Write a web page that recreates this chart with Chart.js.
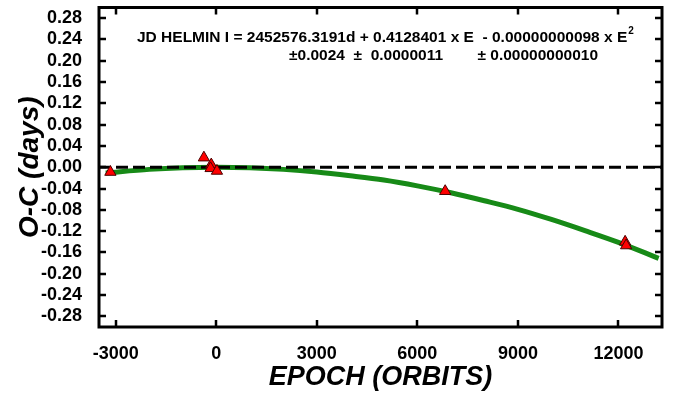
<!DOCTYPE html>
<html>
<head>
<meta charset="utf-8">
<title>O-C diagram</title>
<script src="https://cdn.jsdelivr.net/npm/chart.js@4.4.0/dist/chart.umd.min.js"></script>
<style>
  html, body { margin: 0; padding: 0; background: #ffffff; }
  #wrap { width: 674px; height: 395px; }
</style>
</head>
<body>
<div id="wrap"><canvas id="ocChart" width="674" height="395"></canvas></div>
<script>
// Observed minima: epoch and O-C residual (days)
const epochs = [-3160, -370, -150, -170, 20, 6830, 12200, 12230];
const ocDays = [-0.009, 0.018, 0.005, -0.002, -0.007, -0.045, -0.140, -0.147];

// Quadratic ephemeris curve, sampled along the epoch range
const fitEpochs = [-3300, -2000, -1000, 0, 1000, 2000, 3000, 4000, 5000, 6000, 7000, 8000, 9000, 10000, 11000, 12000, 13200];
const fitOc = [-0.011, -0.004, -0.001, 0.000, -0.001, -0.004, -0.009, -0.016, -0.024, -0.035, -0.048, -0.063, -0.079, -0.098, -0.119, -0.141, -0.171];

// Axis ranges and ticks
const xRange = [-3500, 13300];
const yRange = [-0.30, 0.30];
const xTicks = [-3000, 0, 3000, 6000, 9000, 12000];
const yTicks = [0.28, 0.24, 0.20, 0.16, 0.12, 0.08, 0.04, 0.00, -0.04, -0.08, -0.12, -0.16, -0.20, -0.24, -0.28];

// Ephemeris text
const ephemLine1 = 'JD HELMIN I = 2452576.3191d + 0.4128401 x E  - 0.00000000098 x E';
const ephemSup = '2';
const ephemLine2 = '\u00b10.0024  \u00b1  0.0000011        \u00b1 0.00000000010';

const FONT = "'Liberation Sans', Arial, Helvetica, sans-serif";

// inward tick marks on all four sides plus the heavy frame
const frameTicks = {
    id: 'frameTicks',
    afterDatasetsDraw(chart) {
        const { ctx, chartArea: a, scales: { x, y } } = chart;
        const len = 7;
        ctx.save();
        ctx.strokeStyle = '#000';
        ctx.lineWidth = 2.5;
        ctx.beginPath();
        xTicks.forEach(v => {
            const px = Math.round(x.getPixelForValue(v));
            ctx.moveTo(px, a.bottom); ctx.lineTo(px, a.bottom - len);
            ctx.moveTo(px, a.top); ctx.lineTo(px, a.top + len);
        });
        yTicks.forEach(v => {
            const py = Math.round(y.getPixelForValue(v));
            ctx.moveTo(a.left, py); ctx.lineTo(a.left + len, py);
            ctx.moveTo(a.right, py); ctx.lineTo(a.right - len, py);
        });
        ctx.stroke();
        ctx.lineWidth = 3;
        ctx.strokeRect(a.left, a.top, a.right - a.left, a.bottom - a.top);
        ctx.restore();
    }
};

// ephemeris formula written inside the plot
const ephemText = {
    id: 'ephemText',
    afterDraw(chart) {
        const { ctx, chartArea: a } = chart;
        ctx.save();
        ctx.fillStyle = '#000';
        ctx.textBaseline = 'alphabetic';
        ctx.font = 'bold 15.5px ' + FONT;
        const x1 = a.left + 38;
        ctx.fillText(ephemLine1, x1, a.top + 34);
        const w = ctx.measureText(ephemLine1).width;
        ctx.font = 'bold 10px ' + FONT;
        ctx.fillText(ephemSup, x1 + w + 1, a.top + 26);
        ctx.font = 'bold 15.5px ' + FONT;
        ctx.fillText(ephemLine2, a.left + 190, a.top + 52);
        ctx.restore();
    }
};

const ctx = document.getElementById('ocChart').getContext('2d');
new Chart(ctx, {
    type: 'scatter',
    data: {
        datasets: [
            {
                label: 'observed',
                data: epochs.map((e, i) => ({ x: e, y: ocDays[i] })),
                pointStyle: 'triangle',
                pointRadius: 6.5,
                backgroundColor: '#ff0000',
                borderColor: '#4a0000',
                borderWidth: 1,
                order: 0
            },
            {
                label: 'zero',
                type: 'line',
                data: xRange.map(e => ({ x: e, y: 0 })),
                borderColor: '#000',
                borderWidth: 3,
                borderDash: [12, 5],
                pointRadius: 0,
                order: 1
            },
            {
                label: 'fit',
                type: 'line',
                data: fitEpochs.map((e, i) => ({ x: e, y: fitOc[i] })),
                borderColor: '#178a17',
                borderWidth: 5,
                cubicInterpolationMode: 'monotone',
                pointRadius: 0,
                order: 2
            }
        ]
    },
    options: {
        responsive: false,
        animation: false,
        layout: { padding: { top: 6, right: 12, left: 0, bottom: 0 } },
        plugins: {
            legend: { display: false },
            tooltip: { enabled: false }
        },
        scales: {
            x: {
                type: 'linear',
                min: xRange[0],
                max: xRange[1],
                afterBuildTicks: s => { s.ticks = xTicks.map(v => ({ value: v })); },
                afterFit: s => { s.height = 68; s.paddingLeft = 0; s.paddingRight = 0; },
                grid: { display: false },
                border: { display: false },
                ticks: {
                    color: '#000',
                    padding: 8,
                    maxRotation: 0,
                    autoSkip: false,
                    font: { family: FONT, size: 18, weight: 'bold' },
                    callback: v => String(v)
                },
                title: {
                    display: true,
                    text: 'EPOCH (ORBITS)',
                    color: '#000',
                    padding: { top: 0, bottom: 1 },
                    font: { family: FONT, size: 27, weight: 'bold', style: 'italic' }
                }
            },
            y: {
                type: 'linear',
                min: yRange[0],
                max: yRange[1],
                afterBuildTicks: s => { s.ticks = yTicks.map(v => ({ value: v })); },
                afterFit: s => { s.width = 99; s.paddingTop = 0; s.paddingBottom = 0; },
                grid: { display: false },
                border: { display: false },
                ticks: {
                    color: '#000',
                    padding: 9,
                    autoSkip: false,
                    font: { family: FONT, size: 18, weight: 'bold' },
                    callback: v => v.toFixed(2)
                },
                title: {
                    display: true,
                    text: 'O-C (days)',
                    color: '#000',
                    padding: { top: 13, bottom: 0 },
                    font: { family: FONT, size: 28, weight: 'bold', style: 'italic' }
                }
            }
        }
    },
    plugins: [frameTicks, ephemText]
});
</script>
</body>
</html>
